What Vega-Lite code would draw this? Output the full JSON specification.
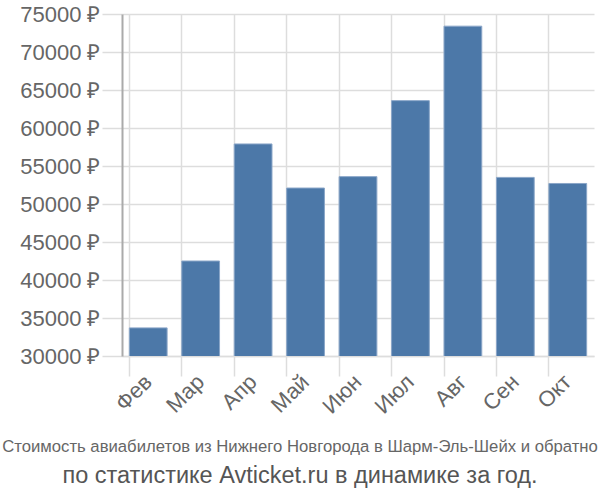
{
  "$schema": "https://vega.github.io/schema/vega-lite/v6.json",
  "autosize": "none",
  "width": 472,
  "height": 342,
  "padding": {"left": 122, "top": 14, "right": 6, "bottom": 144},
  "background": "white",
  "data": {"values": [
    {"m": "Фев", "v": 33700},
    {"m": "Мар", "v": 42500},
    {"m": "Апр", "v": 57900},
    {"m": "Май", "v": 52100},
    {"m": "Июн", "v": 53600},
    {"m": "Июл", "v": 63600},
    {"m": "Авг", "v": 73400},
    {"m": "Сен", "v": 53500},
    {"m": "Окт", "v": 52700}
  ]},
  "title": {
    "text": "Стоимость авиабилетов из Нижнего Новгорода в Шарм-Эль-Шейх и обратно",
    "subtitle": "по статистике Avticket.ru в динамике за год.",
    "orient": "bottom",
    "anchor": "middle",
    "frame": "group",
    "dx": -58,
    "offset": 22,
    "font": "Liberation Sans",
    "fontSize": 16.7,
    "fontWeight": "normal",
    "color": "#666666",
    "subtitleFont": "Liberation Sans",
    "subtitleFontSize": 23.5,
    "subtitleColor": "#555555",
    "subtitlePadding": 8
  },
  "config": {
    "view": {"stroke": null},
    "axis": {
      "labelFont": "Liberation Sans",
      "labelFontSize": 22,
      "labelColor": "#666666",
      "gridColor": "#dddddd",
      "gridWidth": 1.5,
      "tickColor": "#dddddd",
      "tickSize": 20,
      "tickWidth": 1.5
    }
  },
  "mark": {"type": "bar", "color": "#4c78a8", "stroke": "#8aa6c8", "strokeWidth": 1, "clip": true},
  "encoding": {
    "x": {
      "field": "m",
      "type": "nominal",
      "sort": null,
      "title": null,
      "scale": {"paddingInner": 0.28, "paddingOuter": 0.14},
      "axis": {
        "labelAngle": -45,
        "labelAlign": "right",
        "labelBaseline": "middle",
        "labelPadding": 2,
        "bandPosition": 0,
        "grid": true,
        "domainColor": "#dddddd",
        "domainWidth": 1.5
      }
    },
    "y": {
      "field": "v",
      "type": "quantitative",
      "title": null,
      "scale": {"domain": [30000, 75000], "nice": false, "zero": false},
      "axis": {
        "values": [30000, 35000, 40000, 45000, 50000, 55000, 60000, 65000, 70000, 75000],
        "labelExpr": "datum.value + ' ₽'",
        "labelPadding": 2,
        "domainColor": "#aaaaaa",
        "domainWidth": 2
      }
    }
  }
}
